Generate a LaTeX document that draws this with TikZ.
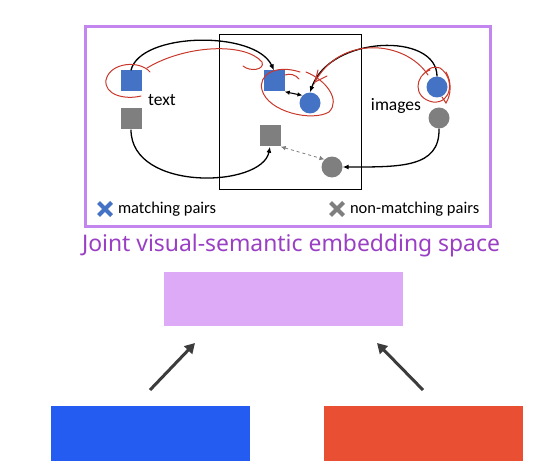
\documentclass[tikz,border=0pt]{standalone}
\usepackage{fontspec}
\setmainfont{Carlito}
\newfontfamily\titlefont{Noto Sans}
\usetikzlibrary{arrows.meta, positioning, shapes.misc}

\definecolor{frameviolet}{HTML}{C386EE}
\definecolor{titleviolet}{HTML}{9A3FC4}
\definecolor{spaceviolet}{HTML}{DDAAF8}
\definecolor{itemblue}{HTML}{4472C4}
\definecolor{itemgray}{HTML}{7F7F7F}
\definecolor{textblue}{HTML}{245BF0}
\definecolor{imagered}{HTML}{E84F33}
\definecolor{arrowgray}{HTML}{3C3C3C}
\definecolor{penred}{HTML}{C8372A}

\begin{document}
\begin{tikzpicture}[x=1pt, y=-1pt]
	% Define styles
	\tikzset{
		sq/.style={rectangle, minimum size=21pt, inner sep=0pt},
		dot/.style={circle, minimum size=21pt, inner sep=0pt},
		link/.style={draw, line width=1.3pt, -{Latex[length=6pt, width=5pt]}},
		pair/.style={draw, line width=1.1pt, {Latex[length=5pt, width=4.5pt]}-{Latex[length=5pt, width=4.5pt]}},
		scribble/.style={draw, penred, line width=1pt, line cap=round},
		xmark/.style={cross out, draw, line width=4pt, minimum size=9pt, inner sep=0pt},
		bar/.style={rectangle, minimum width=199pt, minimum height=55pt, inner sep=0pt},
		up/.style={draw, arrowgray, line width=3pt, -{Triangle[length=10pt, width=11pt]}}
	}
	\useasboundingbox (0,0) rectangle (554,476);

	% Frame and embedding space
	\draw[frameviolet, line width=3pt] (85.5,26.5) rectangle (490.5,226.5);
	\draw[line width=0.9pt] (219,34) rectangle (361,189);

	% Nodes
	\node[sq, fill=itemblue] (ts1) at (131,81) {};
	\node[sq, fill=itemgray] (ts2) at (131,119) {};
	\node[font=\fontsize{17.5}{20}\selectfont] (txt) at (162,100) {text};

	\node[sq, fill=itemblue] (ms1) at (274,81) {};
	\node[dot, fill=itemblue] (mc1) at (310,103) {};
	\node[sq, fill=itemgray] (ms2) at (270,136) {};
	\node[dot, fill=itemgray] (mc2) at (332,167) {};

	\node[dot, fill=itemblue] (ic1) at (437,87) {};
	\node[dot, fill=itemgray] (ic2) at (439,118) {};
	\node[font=\fontsize{17.5}{20}\selectfont] (img) at (396,106) {images};

	% Arrows
	\path[link] (ts1.north) .. controls (140,32) and (255,30) .. (ms1.north);
	\path[link] (ic1.north) .. controls (437,32) and (330,35) .. (mc1.north);
	\path[link] (ts2.south) .. controls (131,192) and (262,188) .. (ms2.south);
	\path[link] (ic2.south) .. controls (440,168) and (400,167) .. (mc2.east);
	\path[pair] (ms1.south east) -- (mc1.north west);
	\path[pair, itemgray, dashed, line width=0.8pt] (ms2.south east) -- (mc2.north west);

	% Pen marks
	\draw[scribble] (150,72) .. controls (140,60) and (110,62) .. (106,80) .. controls (104,95) and (125,100) .. (141,96);
	\draw[scribble] (147,68) .. controls (185,45) and (245,42) .. (262,62) .. controls (265,70) and (250,72) .. (243,66);
	\draw[scribble] (300,72) .. controls (275,64) and (258,75) .. (262,90) .. controls (268,112) and (312,122) .. (329,112) .. controls (341,100) and (326,80) .. (306,72);
	\draw[scribble] (285,75) .. controls (290,73) and (296,75) .. (299,79);
	\draw[scribble] (430,70) .. controls (415,75) and (412,98) .. (433,102) .. controls (452,104) and (455,78) .. (440,68) .. controls (435,66) and (428,68) .. (426,72);
	\draw[scribble] (428,75) .. controls (405,40) and (340,35) .. (315,82) -- (318,70);
	\draw[scribble] (315,82) -- (327,76);
	\draw[scribble] (446,72) .. controls (452,82) and (451,95) .. (446,103) -- (442,97);

	% Legend
	\node[xmark, itemblue] (mx) at (105,209) {};
	\node[right=3pt of mx, font=\fontsize{16.5}{19}\selectfont] (mlab) {matching pairs};
	\node[xmark, itemgray] (nx) at (337,209) {};
	\node[right=3pt of nx, font=\fontsize{16.5}{19}\selectfont] (nlab) {non-matching pairs};

	% Title and blocks
	\node[text=titleviolet, font=\titlefont\fontsize{22.9}{26}\selectfont] (title) at (291,246) {Joint visual-semantic embedding space};
	\node[rectangle, fill=spaceviolet, minimum width=239pt, minimum height=54pt, inner sep=0pt] (space) at (283.5,299) {};
	\node[bar, fill=textblue] (tenc) at (150.5,433.5) {};
	\node[bar, fill=imagered] (ienc) at (423.5,433.5) {};

	\coordinate (ta) at (150,390);
	\coordinate (tb) at (195,343);
	\coordinate (ia) at (423,390);
	\coordinate (ib) at (377,343);
	\path[up] (ta) -- (tb);
	\path[up] (ia) -- (ib);
\end{tikzpicture}
\end{document}
